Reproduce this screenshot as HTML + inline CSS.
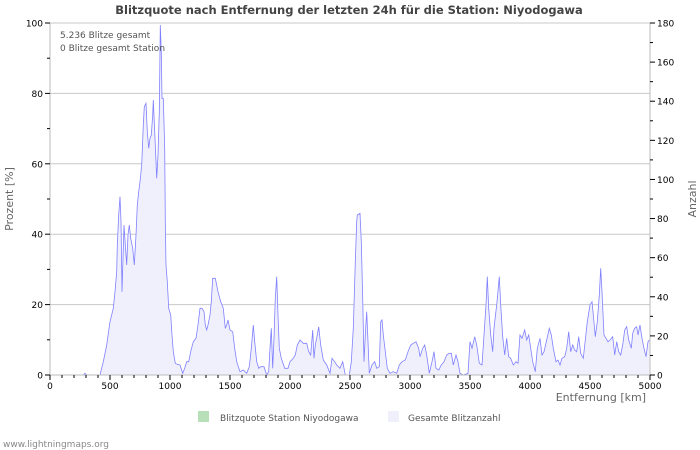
<!DOCTYPE html>
<html><head><meta charset="utf-8"><style>
html,body{margin:0;padding:0;background:#fff;}
svg{display:block;font-family:"DejaVu Sans","Liberation Sans",sans-serif;}
</style></head><body>
<svg id="s" width="700" height="450" viewBox="0 0 700 450" xmlns="http://www.w3.org/2000/svg">
<rect width="700" height="450" fill="#fff"/>
<text x="349" y="14" font-size="11.5" font-weight="bold" text-anchor="middle" fill="#444">Blitzquote nach Entfernung der letzten 24h für die Station: Niyodogawa</text>
<g stroke="#c8c8c8" stroke-width="1">
<line x1="50" y1="304.6" x2="650" y2="304.6"/>
<line x1="50" y1="234.2" x2="650" y2="234.2"/>
<line x1="50" y1="163.8" x2="650" y2="163.8"/>
<line x1="50" y1="93.4" x2="650" y2="93.4"/>
<line x1="50" y1="23" x2="650" y2="23"/>
</g>
<polygon id="fill" fill="#f0f0fc" stroke="none"/>
<polyline id="line" fill="none" stroke="#8080ff" stroke-width="0.8"/>
<g stroke="#bbb" stroke-width="1">
<line x1="50" y1="23" x2="50" y2="375"/>
<line x1="650" y1="23" x2="650" y2="375"/>
<line x1="50" y1="375" x2="650" y2="375"/>
</g>
<g id="ticks" stroke="#000" stroke-width="1"></g>
<g font-size="9" fill="#000" id="labels"></g>
<text x="60" y="38" font-size="9" fill="#555">5.236 Blitze gesamt</text>
<text x="60" y="51" font-size="9" fill="#555">0 Blitze gesamt Station</text>
<text x="646" y="401" font-size="11" fill="#666" text-anchor="end">Entfernung   [km]</text>
<text transform="translate(13,199) rotate(-90)" font-size="11" fill="#666" text-anchor="middle">Prozent   [%]</text>
<text transform="translate(696,199) rotate(-90)" font-size="11" fill="#666" text-anchor="middle">Anzahl</text>
<rect x="198" y="411" width="11" height="11" fill="#b8e0b8"/>
<text x="220" y="421" font-size="9" fill="#555">Blitzquote Station Niyodogawa</text>
<rect x="388" y="411" width="11" height="11" fill="#f0f0fc"/>
<text x="408" y="421" font-size="9" fill="#555">Gesamte Blitzanzahl</text>
<text x="3" y="447" font-size="9" fill="#888">www.lightningmaps.org</text>
</svg>
<script>
var a=[130,1080,135,1075,140,1080,180,1080,190,1040,200,990,210,920,220,880,225,830,230,770,232,690,236,600,240,545,243,620,246,830,248,760,252,630,256,690,260,750,264,660,268,630,272,670,278,700,283,750,288,660,292,570,296,530,300,500,305,450,310,330,313,275,318,265,322,350,326,400,330,370,334,360,338,300,340,255,344,350,348,440,350,490,354,420,358,290,361,30,364,110,366,250,370,250,374,400,376,620,378,750,382,800,386,880,392,900,396,960,400,1010,406,1045,412,1048,420,1050,428,1075,434,1060,440,1040,446,1040,452,1010,460,980,468,970,474,930,480,880,486,880,492,890,496,930,500,945,504,930,510,900,514,860,518,790,526,790,534,830,542,860,550,880,556,940,560,930,564,915,570,945,578,950,584,1000,590,1040,600,1070,610,1065,620,1075,628,1055,634,1000,640,930,644,980,650,1040,656,1060,662,1055,672,1055,680,1080,686,1070,690,1000,694,940,698,1060,702,970,706,850,710,785,714,900,718,1000,724,1030,734,1060,744,1060,750,1040,760,1030,766,1020,772,990,780,975,790,985,800,985,806,1010,812,1020,818,945,822,1030,826,990,832,960,836,935,842,990,850,1035,860,1050,870,1075,876,1030,884,1040,890,1050,900,1060,908,1040,916,1080,928,1080,934,1040,940,940,946,740,950,620];
var b=[52,600,60,595,64,680,68,850,72,1040,76,960,80,890,84,980,88,1075,96,1050,104,1040,110,1060,118,1055,122,920,126,915,130,960,136,1010,142,1060,150,1075,160,1070,170,1075,178,1050,186,1040,196,1035,204,1010,212,990,220,985,228,980,236,1000,240,1025,248,1000,254,990,260,1020,268,1075,276,1040,282,1010,288,1060,296,1065,304,1050,312,1040,320,1020,328,1015,334,1015,340,1050,348,1020,354,1040,360,1075,370,1080,384,1075,390,980,396,1000,404,965,410,990,418,1045,426,1050,432,960,438,870,442,785,446,880,452,960,458,1010,462,940,466,905,470,870,478,785,482,870,488,965,494,1020,500,970,506,1025,512,1030,520,1050,528,1040,534,1045,540,960,546,970,554,945,560,975,566,960,572,1000,578,1040,586,1070,592,1000,600,970,606,1020,612,1010,620,975,628,940,634,960,640,1000,648,1040,654,1035,660,1050,666,1030,674,1025,680,1000,686,950,692,1010,698,990,704,1005,710,1010,716,965,722,1015,730,1030,736,975,742,920,750,870,756,860,760,900,766,965,772,920,778,840,782,760,786,830,792,960,798,970,804,980,810,975,818,965,824,1020,830,980,836,1010,842,1020,848,990,854,945,860,935,866,975,874,1000,878,955,884,940,890,935,894,960,900,930,906,970,912,1000,918,1025,924,980,928,975];
var p=[];
for(var i=0;i<a.length;i+=2)p.push((40+a[i]/3).toFixed(1)+","+(15+a[i+1]/3).toFixed(1));
for(var i=0;i<b.length;i+=2)p.push((340+b[i]/3).toFixed(1)+","+(15+b[i+1]/3).toFixed(1));
var ps=p.join(" ");
document.getElementById("line").setAttribute("points",ps);
document.getElementById("fill").setAttribute("points","83.3,375 "+ps+" 649.3,375");
var t="",l="";
for(var k=0;k<=50;k++){var x=50+k*12;t+='<line x1="'+x+'" y1="375" x2="'+x+'" y2="'+(k%5==0?380:378)+'"/>';}
for(var k=0;k<=10;k++){var x=50+k*60;l+='<text x="'+x+'" y="389" text-anchor="middle">'+(k*500)+'</text>';}
for(var k=0;k<=10;k++){var y=375-k*35.2;t+='<line x1="'+(k%2==0?45:47)+'" y1="'+y+'" x2="50" y2="'+y+'"/>';if(k%2==0)l+='<text x="43" y="'+(y+3.5)+'" text-anchor="end">'+(k*10)+'</text>';}
for(var k=0;k<=18;k++){var y=375-k*352/18;t+='<line x1="650" y1="'+y+'" x2="'+(k%2==0?655:653)+'" y2="'+y+'"/>';if(k%2==0)l+='<text x="657" y="'+(y+3.5)+'">'+(k*10)+'</text>';}
document.getElementById("ticks").innerHTML=t;
document.getElementById("labels").innerHTML=l;
</script>
</body></html>
